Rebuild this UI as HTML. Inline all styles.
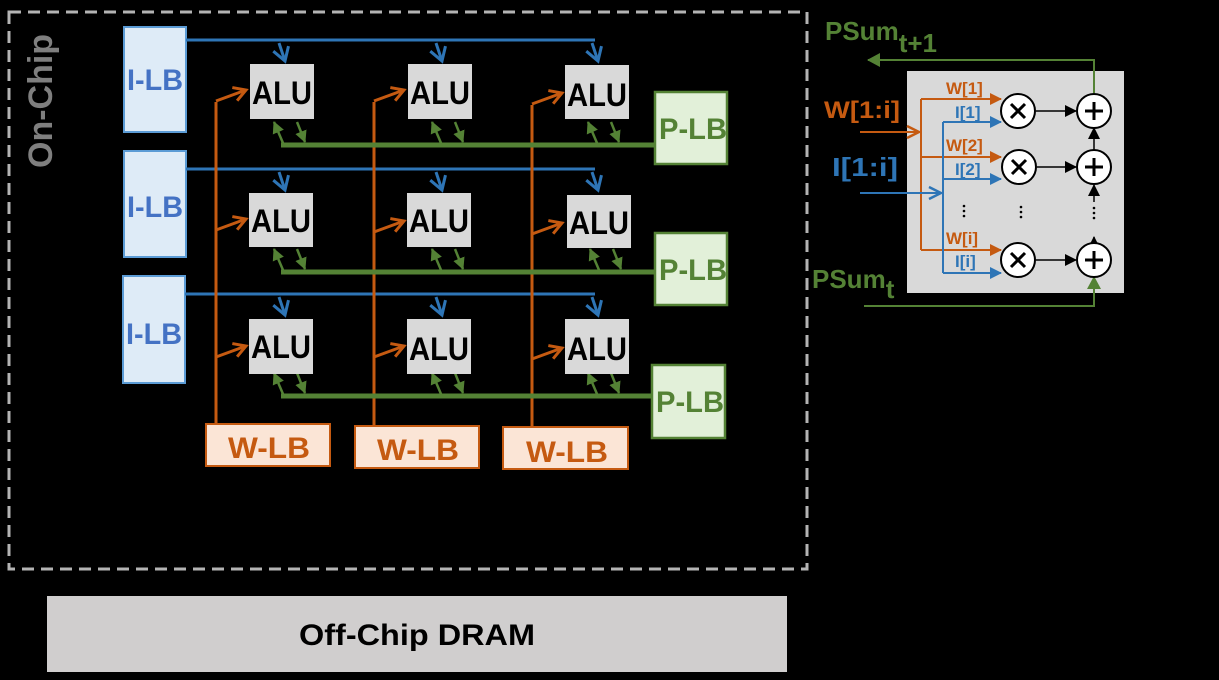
<!DOCTYPE html>
<html><head><meta charset="utf-8"><style>
html,body{margin:0;padding:0;background:#000;}
svg{display:block}
text{font-family:"Liberation Sans",sans-serif;font-weight:bold}
</style></head><body>
<svg width="1219" height="680" viewBox="0 0 1219 680" xmlns="http://www.w3.org/2000/svg">
<defs>
<marker id="ab" markerUnits="userSpaceOnUse" markerWidth="20" markerHeight="20" refX="15" refY="10" orient="auto" viewBox="0 0 20 20"><path d="M2,2 L15,10 L2,18" fill="none" stroke="#2e75b6" stroke-width="3"/></marker>
<marker id="ao" markerUnits="userSpaceOnUse" markerWidth="18" markerHeight="18" refX="14" refY="9" orient="auto" viewBox="0 0 18 18"><path d="M2,2 L14,9 L2,16" fill="none" stroke="#c55a11" stroke-width="3"/></marker>
<marker id="ag" markerUnits="userSpaceOnUse" markerWidth="12" markerHeight="12" refX="11" refY="6" orient="auto" viewBox="0 0 12 12"><path d="M0,0 L12,6 L0,12 Z" fill="#548235"/></marker>
<marker id="ok" markerUnits="userSpaceOnUse" markerWidth="12" markerHeight="12" refX="11" refY="6" orient="auto" viewBox="0 0 12 12"><path d="M0,0 L12,6 L0,12 Z" fill="#000"/></marker>
<marker id="obl" markerUnits="userSpaceOnUse" markerWidth="12" markerHeight="12" refX="11" refY="6" orient="auto" viewBox="0 0 12 12"><path d="M0,0 L12,6 L0,12 Z" fill="#2e75b6"/></marker>
<marker id="oor" markerUnits="userSpaceOnUse" markerWidth="12" markerHeight="12" refX="11" refY="6" orient="auto" viewBox="0 0 12 12"><path d="M0,0 L12,6 L0,12 Z" fill="#c55a11"/></marker>
<marker id="ogr" markerUnits="userSpaceOnUse" markerWidth="14" markerHeight="14" refX="12" refY="7" orient="auto" viewBox="0 0 14 14"><path d="M0,0 L13,7 L0,14 Z" fill="#548235"/></marker>
<marker id="obg" markerUnits="userSpaceOnUse" markerWidth="16" markerHeight="16" refX="14" refY="8" orient="auto" viewBox="0 0 16 16"><path d="M2,2 L14,8 L2,14" fill="none" stroke="#2e75b6" stroke-width="2.5"/></marker>
<marker id="oog" markerUnits="userSpaceOnUse" markerWidth="16" markerHeight="16" refX="14" refY="8" orient="auto" viewBox="0 0 16 16"><path d="M2,2 L14,8 L2,14" fill="none" stroke="#c55a11" stroke-width="2.5"/></marker>
</defs>

<rect x="9" y="12" width="798" height="557" fill="none" stroke="#b4b4b4" stroke-width="3" stroke-dasharray="12,7"/>
<text x="0" y="0" transform="translate(52,168) rotate(-90)" font-size="34" fill="#7f7f7f">On-Chip</text>

<g fill="#deebf7" stroke="#5b9bd5" stroke-width="2">
<rect x="124" y="27" width="62" height="105"/>
<rect x="124" y="151" width="62" height="106"/>
<rect x="123" y="276" width="62" height="107"/>
</g>
<g font-size="30" fill="#4472c4" text-anchor="middle">
<text x="155" y="90" textLength="56" lengthAdjust="spacingAndGlyphs">I-LB</text>
<text x="155" y="217" textLength="56" lengthAdjust="spacingAndGlyphs">I-LB</text>
<text x="154" y="344" textLength="56" lengthAdjust="spacingAndGlyphs">I-LB</text>
</g>

<g stroke="#2e75b6" stroke-width="3" fill="none">
<line x1="186" y1="40" x2="595" y2="40"/>
<line x1="186" y1="169" x2="595" y2="169"/>
<line x1="185" y1="294" x2="595" y2="294"/>
</g>
<g stroke="#2e75b6" stroke-width="3" fill="none" marker-end="url(#ab)">
<path d="M279,43 L285,61"/><path d="M436,43 L442,61"/><path d="M592,43 L598,61"/>
<path d="M279,172 L285,190"/><path d="M436,172 L442,190"/><path d="M592,172 L598,190"/>
<path d="M279,297 L285,315"/><path d="M436,297 L442,315"/><path d="M592,297 L598,315"/>
</g>

<g stroke="#c55a11" stroke-width="3" fill="none">
<line x1="216" y1="102" x2="216" y2="424"/>
<line x1="374" y1="102" x2="374" y2="426"/>
<line x1="532" y1="105" x2="532" y2="427"/>
</g>
<g stroke="#c55a11" stroke-width="3" fill="none" marker-end="url(#ao)">
<path d="M216,101 L246,90"/><path d="M374,101 L404,90"/><path d="M532,104 L562,93"/>
<path d="M216,230 L246,219"/><path d="M374,232 L404,221"/><path d="M532,234 L562,223"/>
<path d="M216,357 L246,346"/><path d="M374,357 L404,346"/><path d="M532,359 L562,348"/>
</g>

<g stroke="#548235" stroke-width="5" fill="none">
<line x1="281" y1="145" x2="656" y2="145"/>
<line x1="281" y1="272" x2="656" y2="272"/>
<line x1="281" y1="396" x2="653" y2="396"/>
</g>
<g stroke="#548235" stroke-width="2.5" fill="none" marker-end="url(#ag)">
<path d="M283,143 L274,122"/><path d="M297,122 L305,142"/>
<path d="M441,143 L432,122"/><path d="M455,122 L463,142"/>
<path d="M597,143 L588,122"/><path d="M611,122 L619,142"/>
<path d="M283,270 L274,249"/><path d="M297,249 L305,269"/>
<path d="M441,270 L432,249"/><path d="M455,249 L463,269"/>
<path d="M599,270 L590,249"/><path d="M613,249 L621,269"/>
<path d="M283,394 L274,373"/><path d="M297,373 L305,393"/>
<path d="M441,394 L432,373"/><path d="M455,373 L463,393"/>
<path d="M597,394 L588,373"/><path d="M611,373 L619,393"/>
</g>

<g fill="#d9d9d9">
<rect x="250" y="64" width="64" height="55"/><rect x="408" y="64" width="64" height="55"/><rect x="565" y="65" width="64" height="54"/>
<rect x="249" y="193" width="64" height="54"/><rect x="407" y="193" width="64" height="54"/><rect x="567" y="195" width="64" height="53"/>
<rect x="249" y="319" width="64" height="55"/><rect x="407" y="319" width="64" height="55"/><rect x="565" y="319" width="64" height="55"/>
</g>
<g font-size="32" fill="#000" text-anchor="middle">
<text x="282" y="104" textLength="60" lengthAdjust="spacingAndGlyphs">ALU</text>
<text x="440" y="104" textLength="60" lengthAdjust="spacingAndGlyphs">ALU</text>
<text x="597" y="106" textLength="60" lengthAdjust="spacingAndGlyphs">ALU</text>
<text x="281" y="232" textLength="60" lengthAdjust="spacingAndGlyphs">ALU</text>
<text x="439" y="232" textLength="60" lengthAdjust="spacingAndGlyphs">ALU</text>
<text x="599" y="234" textLength="60" lengthAdjust="spacingAndGlyphs">ALU</text>
<text x="281" y="358" textLength="60" lengthAdjust="spacingAndGlyphs">ALU</text>
<text x="439" y="360" textLength="60" lengthAdjust="spacingAndGlyphs">ALU</text>
<text x="597" y="360" textLength="60" lengthAdjust="spacingAndGlyphs">ALU</text>
</g>

<g fill="#e2f0d9" stroke="#548235" stroke-width="2.5">
<rect x="655" y="92" width="72" height="72"/>
<rect x="655" y="233" width="72" height="72"/>
<rect x="652" y="365" width="73" height="73"/>
</g>
<g font-size="30" fill="#548235">
<text x="659" y="139" textLength="68" lengthAdjust="spacingAndGlyphs">P-LB</text>
<text x="659" y="280" textLength="68" lengthAdjust="spacingAndGlyphs">P-LB</text>
<text x="656" y="412" textLength="68" lengthAdjust="spacingAndGlyphs">P-LB</text>
</g>

<g fill="#fbe5d6" stroke="#c55a11" stroke-width="2">
<rect x="206" y="424" width="124" height="42"/>
<rect x="355" y="426" width="124" height="42"/>
<rect x="503" y="427" width="125" height="42"/>
</g>
<g font-size="30" fill="#c55a11" text-anchor="middle">
<text x="269" y="458" textLength="82" lengthAdjust="spacingAndGlyphs">W-LB</text>
<text x="418" y="460" textLength="82" lengthAdjust="spacingAndGlyphs">W-LB</text>
<text x="567" y="462" textLength="82" lengthAdjust="spacingAndGlyphs">W-LB</text>
</g>

<rect x="47" y="596" width="740" height="76" fill="#d0cece"/>
<text x="417" y="645" font-size="30" fill="#000" text-anchor="middle" textLength="236" lengthAdjust="spacingAndGlyphs">Off-Chip DRAM</text>

<rect x="907" y="71" width="217" height="222" fill="#d9d9d9"/>
<path d="M1094,93 L1094,60 L868,60" fill="none" stroke="#548235" stroke-width="2" marker-end="url(#ogr)"/>
<text x="825" y="40" font-size="26" fill="#548235">PSum<tspan dy="12">t+1</tspan></text>
<path d="M864,306 L1094,306 L1094,277" fill="none" stroke="#548235" stroke-width="2" marker-end="url(#ogr)"/>
<text x="812" y="288" font-size="26" fill="#548235">PSum<tspan dy="10">t</tspan></text>

<text x="824" y="118" font-size="24" fill="#c55a11" textLength="76" lengthAdjust="spacingAndGlyphs">W[1:i]</text>
<path d="M860,132 L919,132" fill="none" stroke="#c55a11" stroke-width="2" marker-end="url(#oog)"/>
<path d="M921,99 L921,250" stroke="#c55a11" stroke-width="2"/>
<g stroke="#c55a11" stroke-width="2" marker-end="url(#oor)">
<line x1="921" y1="99" x2="1001" y2="99"/>
<line x1="921" y1="157" x2="1001" y2="157"/>
<line x1="921" y1="250" x2="1001" y2="250"/>
</g>
<text x="832" y="176" font-size="26" fill="#2e75b6" textLength="66" lengthAdjust="spacingAndGlyphs">I[1:i]</text>
<path d="M860,193 L941,193" fill="none" stroke="#2e75b6" stroke-width="2" marker-end="url(#obg)"/>
<path d="M943,122 L943,273" stroke="#2e75b6" stroke-width="2"/>
<g stroke="#2e75b6" stroke-width="2" marker-end="url(#obl)">
<line x1="943" y1="122" x2="1001" y2="122"/>
<line x1="943" y1="179" x2="1001" y2="179"/>
<line x1="943" y1="273" x2="1001" y2="273"/>
</g>
<g font-size="17" fill="#c55a11">
<text x="946" y="94">W[1]</text><text x="946" y="151">W[2]</text><text x="946" y="244">W[i]</text>
</g>
<g font-size="17" fill="#2e75b6">
<text x="955" y="118">I[1]</text><text x="955" y="175">I[2]</text><text x="955" y="267">I[i]</text>
</g>
<g stroke="#000" stroke-width="1.5" marker-end="url(#ok)">
<line x1="1036" y1="111" x2="1076" y2="111"/>
<line x1="1037" y1="167" x2="1076" y2="167"/>
<line x1="1036" y1="260" x2="1076" y2="260"/>
<line x1="1094" y1="150" x2="1094" y2="128"/>
<line x1="1094" y1="202" x2="1094" y2="185"/>
<line x1="1094" y1="246" x2="1094" y2="237"/>
</g>
<g fill="#fff" stroke="#000" stroke-width="2">
<circle cx="1018" cy="111" r="17"/><circle cx="1019" cy="167" r="17"/><circle cx="1018" cy="260" r="17"/>
<circle cx="1094" cy="111" r="17"/><circle cx="1094" cy="167" r="17"/><circle cx="1094" cy="260" r="17"/>
</g>
<g stroke="#000" stroke-width="3">
<path d="M1011,104 L1025,118 M1025,104 L1011,118"/>
<path d="M1012,160 L1026,174 M1026,160 L1012,174"/>
<path d="M1011,253 L1025,267 M1025,253 L1011,267"/>
<path d="M1094,102 L1094,120 M1085,111 L1103,111"/>
<path d="M1094,158 L1094,176 M1085,167 L1103,167"/>
<path d="M1094,251 L1094,269 M1085,260 L1103,260"/>
</g>
<g fill="#000">
<circle cx="964" cy="206" r="1.3"/><circle cx="964" cy="211" r="1.3"/><circle cx="964" cy="216" r="1.3"/>
<circle cx="1021" cy="207" r="1.3"/><circle cx="1021" cy="212" r="1.3"/><circle cx="1021" cy="217" r="1.3"/>
<circle cx="1094" cy="208" r="1.3"/><circle cx="1094" cy="213" r="1.3"/><circle cx="1094" cy="218" r="1.3"/>
</g>
</svg>
</body></html>
